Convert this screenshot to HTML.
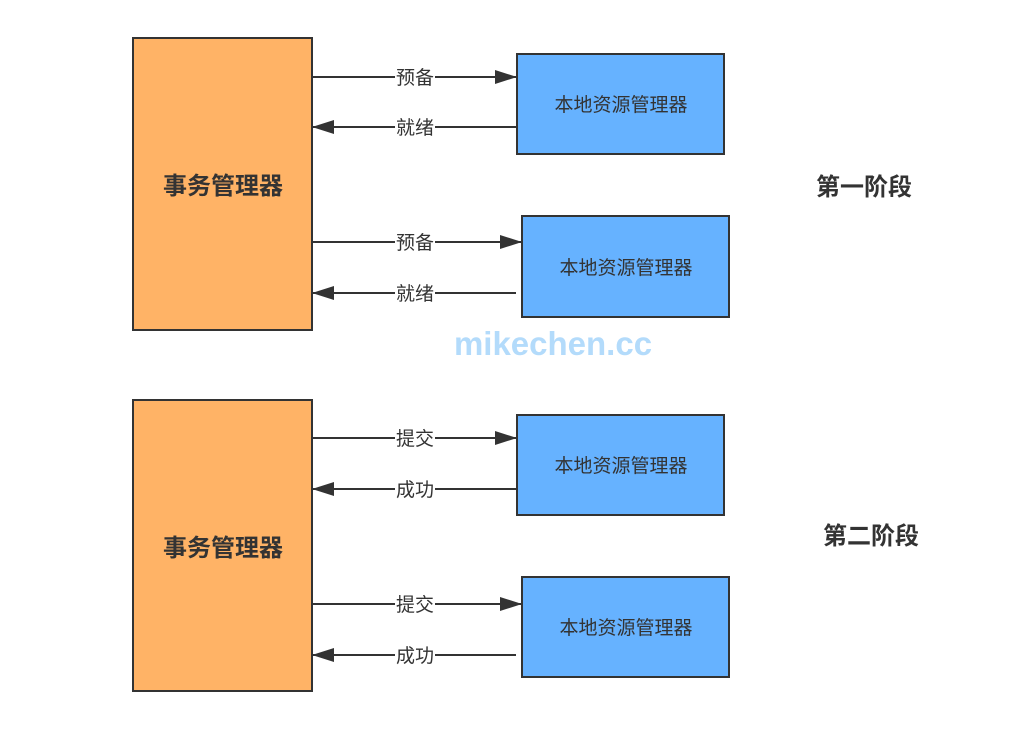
<!DOCTYPE html>
<html><head><meta charset="utf-8"><style>
html,body{margin:0;padding:0;background:#fff}
svg text{font-family:"Liberation Sans","Noto Sans CJK SC",sans-serif}
</style></head><body>
<svg width="1029" height="728" viewBox="0 0 1029 728" xmlns="http://www.w3.org/2000/svg">
<defs>
<marker id="b" viewBox="0 0 22 14" markerWidth="22" markerHeight="14" refX="21" refY="7" orient="auto" markerUnits="userSpaceOnUse"><path d="M0,0 L22,7 L0,14 Z" fill="#333"/></marker></defs>
<g stroke="#333" stroke-width="2">
<rect x="133" y="38" width="179" height="292" fill="#ffb366"/>
<rect x="133" y="400" width="179" height="291" fill="#ffb366"/>
<rect x="517" y="54" width="207" height="100" fill="#66b2ff"/>
<rect x="522" y="216" width="207" height="101" fill="#66b2ff"/>
<rect x="517" y="415" width="207" height="100" fill="#66b2ff"/>
<rect x="522" y="577" width="207" height="100" fill="#66b2ff"/>
<line x1="313" y1="77" x2="516" y2="77" marker-end="url(#b)"/>
<line x1="516" y1="127" x2="313" y2="127" marker-end="url(#b)"/>
<line x1="313" y1="242" x2="521" y2="242" marker-end="url(#b)"/>
<line x1="516" y1="293" x2="313" y2="293" marker-end="url(#b)"/>
<line x1="313" y1="438" x2="516" y2="438" marker-end="url(#b)"/>
<line x1="516" y1="489" x2="313" y2="489" marker-end="url(#b)"/>
<line x1="313" y1="604" x2="521" y2="604" marker-end="url(#b)"/>
<line x1="516" y1="655" x2="313" y2="655" marker-end="url(#b)"/>
</g>
<g fill="#fff"><rect x="395" y="68" width="40" height="18"/><rect x="395" y="118" width="40" height="18"/><rect x="395" y="233" width="40" height="18"/><rect x="395" y="284" width="40" height="18"/><rect x="395" y="429" width="40" height="18"/><rect x="395" y="480" width="40" height="18"/><rect x="395" y="595" width="40" height="18"/><rect x="395" y="646" width="40" height="18"/></g>
<g font-size="19" fill="#333" text-anchor="middle">
<text x="415" y="84">预备</text><text x="415" y="134">就绪</text>
<text x="415" y="249">预备</text><text x="415" y="300">就绪</text>
<text x="415" y="445">提交</text><text x="415" y="496">成功</text>
<text x="415" y="611">提交</text><text x="415" y="662">成功</text>
</g>
<g font-size="19" fill="#333" text-anchor="middle">
<text x="621" y="111">本地资源管理器</text><text x="626" y="274">本地资源管理器</text>
<text x="621" y="472">本地资源管理器</text><text x="626" y="634">本地资源管理器</text>
</g>
<g font-size="24" font-weight="bold" fill="#333" text-anchor="middle">
<text x="223" y="194">事务管理器</text><text x="223" y="556">事务管理器</text>
<text x="864" y="195">第一阶段</text><text x="871" y="544">第二阶段</text>
</g>
<text x="553" y="355" font-size="33" font-weight="bold" fill="#b3dbfb" text-anchor="middle">mikechen.cc</text>
</svg>
</body></html>
